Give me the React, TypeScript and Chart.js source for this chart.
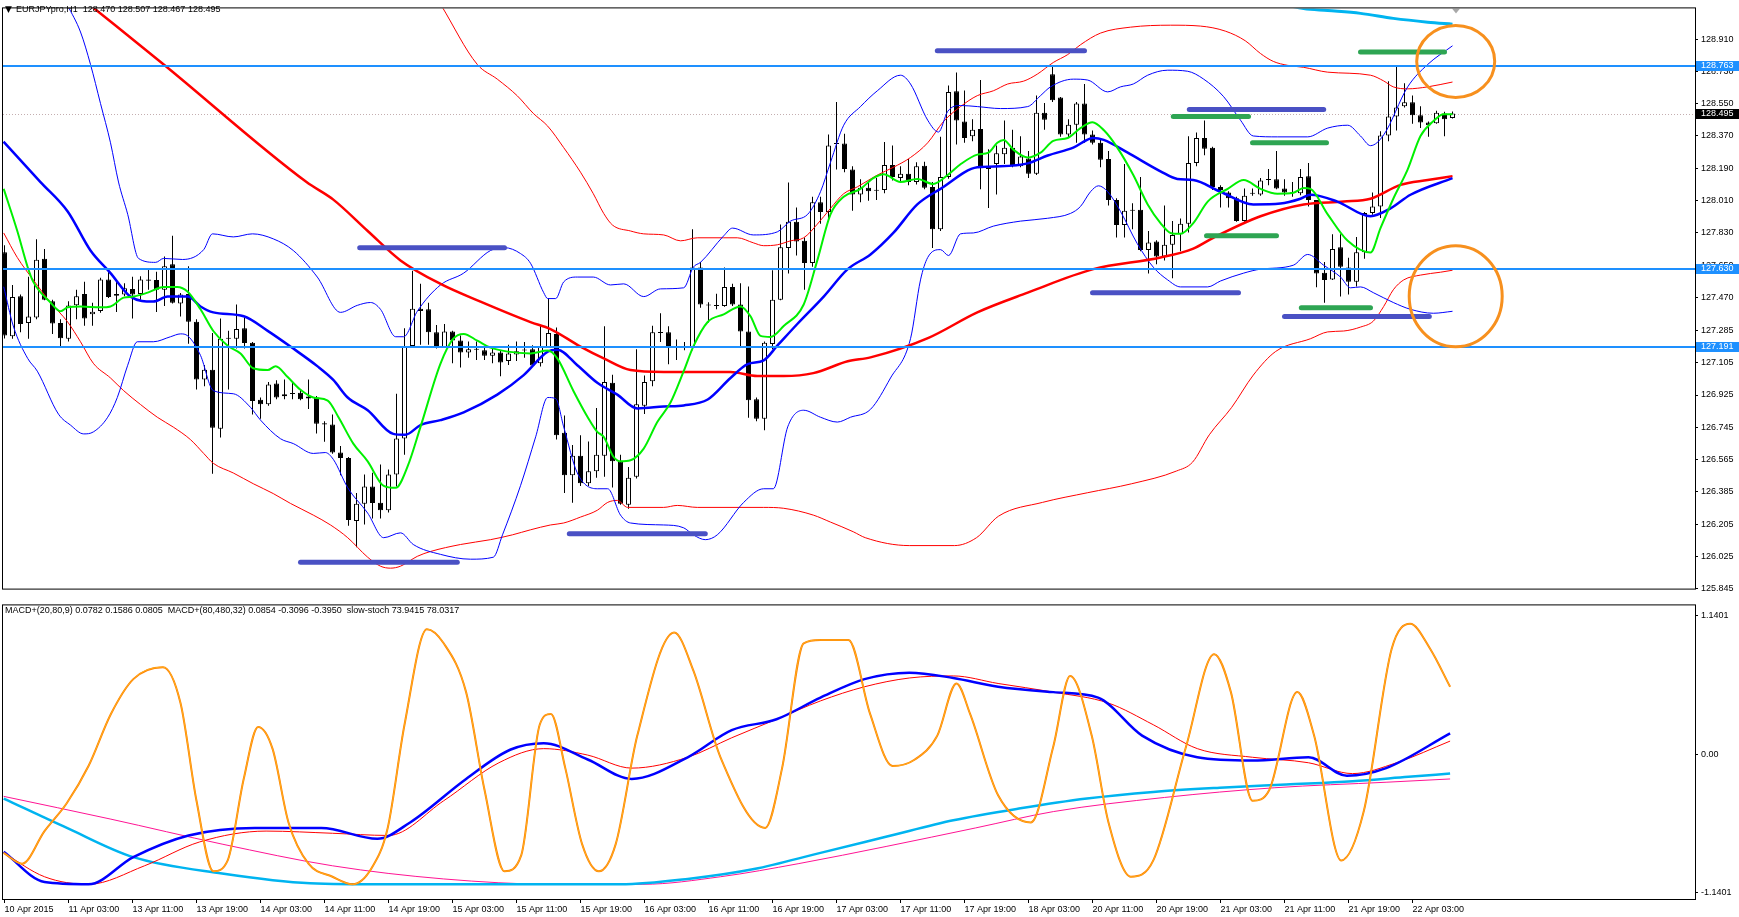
import React, { useEffect, useRef } from "react";
import { Chart, registerables } from "chart.js";
Chart.register(...registerables);

// ================= DATA =================
const timeLabels = [
  "10 Apr 2015", "11 Apr 03:00", "13 Apr 11:00", "13 Apr 19:00", "14 Apr 03:00", "14 Apr 11:00",
  "14 Apr 19:00", "15 Apr 03:00", "15 Apr 11:00", "15 Apr 19:00", "16 Apr 03:00", "16 Apr 11:00",
  "16 Apr 19:00", "17 Apr 03:00", "17 Apr 11:00", "17 Apr 19:00", "18 Apr 03:00", "20 Apr 11:00",
  "20 Apr 19:00", "21 Apr 03:00", "21 Apr 11:00", "21 Apr 19:00", "22 Apr 03:00",
];
const timeTickBars = [0, 8, 16, 24, 32, 40, 48, 56, 64, 72, 80, 88, 96, 104, 112, 120, 128, 136, 144, 152, 160, 168, 176];

const priceTicks = [128.910, 128.730, 128.550, 128.370, 128.190, 128.010, 127.830, 127.650, 127.470,
  127.285, 127.105, 126.925, 126.745, 126.565, 126.385, 126.205, 126.025, 125.845];
const oscTicks = [1.1401, 0, -1.1401];
const oscTickLabels = ["1.1401", "0.00", "-1.1401"];

const levelPrices = [128.763, 127.630, 127.191];
const bidPrice = 128.495;
const shiftMarkerBar = 181.4;

const opens = [
  127.722,127.253,127.476,127.326,127.357,127.685,127.448,127.326,127.239,127.426,
  127.488,127.375,127.393,127.570,127.479,127.485,127.516,127.488,127.570,127.567,
  127.512,127.654,127.435,127.488,127.333,127.011,127.066,126.737,127.239,127.239,
  127.297,127.217,126.898,126.874,126.989,126.918,126.932,126.938,126.905,126.911,
  126.768,126.761,126.604,126.573,126.222,126.318,126.415,126.324,126.282,126.482,
  126.683,127.199,127.406,127.403,127.275,127.193,127.279,127.229,127.162,127.180,
  127.175,127.144,127.162,127.115,127.151,127.173,127.180,127.102,127.193,127.266,
  126.714,126.477,126.586,126.433,126.500,126.586,126.993,126.555,126.313,126.469,
  126.865,127.002,127.271,127.275,127.193,127.191,127.188,127.636,127.430,127.424,
  127.421,127.527,127.430,127.279,126.901,126.792,127.210,127.457,127.745,127.891,
  127.785,127.661,128.000,127.946,128.325,128.328,128.183,128.044,128.081,128.068,
  128.068,128.208,128.135,128.159,128.113,128.204,128.086,127.849,128.141,128.620,
  128.451,128.369,128.409,128.204,128.214,128.268,128.305,128.201,128.245,128.159,
  128.500,128.715,128.584,128.378,128.432,128.551,128.378,128.332,128.241,128.013,
  127.873,127.953,127.958,127.734,127.782,127.698,127.763,127.822,127.880,128.219,
  128.359,128.305,128.086,128.055,128.022,127.895,128.050,128.044,128.128,128.128,
  128.077,128.050,128.050,128.146,128.013,127.607,127.570,127.749,127.636,127.557,
  127.721,127.940,127.977,128.372,128.478,128.536,128.558,128.485,128.445,128.441,
  128.496,128.470,
];
const highs = [
  127.760,127.539,127.485,127.585,127.794,127.740,127.457,127.348,127.448,127.512,
  127.557,127.439,127.579,127.612,127.557,127.548,127.585,127.588,127.625,127.612,
  127.698,127.813,127.494,127.643,127.348,127.093,127.271,127.352,127.284,127.430,
  127.357,127.220,126.911,126.998,127.007,127.011,126.998,126.956,127.011,126.920,
  126.779,126.816,126.641,126.579,126.378,126.482,126.491,126.537,126.510,126.932,
  127.297,127.618,127.545,127.439,127.315,127.321,127.284,127.257,127.224,127.224,
  127.193,127.199,127.175,127.206,127.224,127.220,127.202,127.312,127.466,127.302,
  126.810,126.646,126.701,126.665,126.852,127.308,127.038,126.592,126.524,127.180,
  127.034,127.312,127.381,127.308,127.235,127.220,127.849,127.667,127.443,127.490,
  127.636,127.545,127.548,127.530,126.911,127.224,127.621,127.876,128.110,127.971,
  127.804,128.031,128.031,128.378,128.560,128.383,128.201,128.128,128.113,128.135,
  128.336,128.317,128.201,128.241,128.223,128.226,128.113,128.365,128.651,128.724,
  128.624,128.463,128.682,128.296,128.317,128.456,128.405,128.369,128.286,128.596,
  128.554,128.755,128.587,128.463,128.560,128.660,128.401,128.347,128.286,128.022,
  128.214,127.995,128.141,127.840,127.789,127.982,127.895,127.909,128.368,128.390,
  128.456,128.310,128.095,128.062,128.031,128.077,128.077,128.135,128.186,128.286,
  128.128,128.113,128.186,128.219,128.013,127.667,127.822,127.822,127.690,127.807,
  127.946,128.055,128.396,128.675,128.755,128.664,128.596,128.536,128.451,128.511,
  128.505,128.507,
];
const lows = [
  127.240,127.239,127.275,127.239,127.348,127.453,127.266,127.193,127.224,127.348,
  127.312,127.312,127.384,127.466,127.388,127.476,127.352,127.457,127.512,127.388,
  127.421,127.435,127.363,127.211,126.956,126.974,126.486,126.688,126.956,127.184,
  127.184,126.816,126.792,126.865,126.901,126.901,126.901,126.896,126.847,126.710,
  126.664,126.597,126.477,126.196,126.076,126.203,126.236,126.236,126.269,126.415,
  126.592,127.193,127.206,127.206,127.184,127.188,127.102,127.078,127.133,127.120,
  127.120,127.102,127.029,127.093,127.115,127.133,127.084,127.084,127.188,126.677,
  126.378,126.324,126.418,126.418,126.464,126.469,126.409,126.313,126.291,126.459,
  126.819,126.974,127.220,127.096,127.120,127.175,127.175,127.412,127.330,127.403,
  127.417,127.421,127.199,126.798,126.779,126.728,127.180,127.454,127.603,127.703,
  127.512,127.640,127.880,127.913,128.183,128.168,127.953,128.000,128.008,128.013,
  128.050,128.122,128.113,128.095,128.099,128.073,127.745,127.840,128.132,128.323,
  128.332,128.341,128.073,127.968,128.044,128.214,128.195,128.195,128.135,128.153,
  128.405,128.560,128.365,128.359,128.332,128.332,128.323,128.195,127.982,127.804,
  127.804,127.849,127.727,127.603,127.654,127.676,127.576,127.727,127.831,128.201,
  128.263,128.068,127.971,127.971,127.891,127.891,128.037,128.037,128.095,128.073,
  128.037,128.031,128.040,127.977,127.526,127.439,127.567,127.475,127.485,127.530,
  127.685,127.931,127.913,128.341,128.401,128.529,128.438,128.414,128.365,128.438,
  128.368,128.467,
];
const closes = [
  127.257,127.472,127.321,127.363,127.680,127.457,127.324,127.242,127.424,127.476,
  127.352,127.390,127.570,127.472,127.488,127.521,127.485,127.570,127.563,127.512,
  127.643,127.439,127.485,127.333,127.011,127.066,126.743,127.239,127.242,127.293,
  127.215,126.892,126.874,126.983,126.911,126.929,126.930,126.901,126.916,126.765,
  126.761,126.604,126.573,126.227,126.318,126.415,126.322,126.282,126.482,126.683,
  127.193,127.406,127.393,127.275,127.188,127.279,127.229,127.162,127.180,127.177,
  127.144,127.162,127.107,127.157,127.169,127.177,127.089,127.199,127.271,126.701,
  126.477,126.586,126.433,126.500,126.592,126.998,126.555,126.318,126.464,126.874,
  126.998,127.275,127.275,127.193,127.191,127.195,127.636,127.430,127.424,127.421,
  127.527,127.430,127.279,126.896,126.792,127.217,127.457,127.749,127.891,127.782,
  127.661,128.000,127.946,128.317,128.328,128.186,128.044,128.081,128.062,128.064,
  128.208,128.141,128.159,128.113,128.201,128.081,127.849,128.141,128.615,128.456,
  128.359,128.405,128.190,128.186,128.274,128.305,128.208,128.256,128.159,128.500,
  128.460,128.569,128.378,128.432,128.551,128.378,128.332,128.237,128.013,127.873,
  127.953,127.957,127.734,127.776,127.698,127.763,127.818,127.880,128.219,128.359,
  128.299,128.086,128.068,128.022,127.895,128.037,128.048,128.122,128.124,128.077,
  128.055,128.053,128.141,128.013,127.603,127.567,127.740,127.640,127.557,127.721,
  127.940,127.977,128.372,128.478,128.529,128.558,128.485,128.445,128.430,128.500,
  128.463,128.495,
];

// indicator lines: [bar, value]
const maRed = [[10.75,129.098],[19.9,128.769],[37.75,128.113],[41.1,128.015],[45.4,127.840],[49.5,127.676],[54.5,127.545],[59.5,127.446],[65.75,127.332],[68.25,127.293],[72,127.195],[74.9,127.129],[78.25,127.064],[82.4,127.053],[90.75,127.053],[94.1,127.031],[97.4,127.031],[101.1,127.047],[105.4,127.113],[108.25,127.135],[115.5,127.244],[121.6,127.386],[127.9,127.496],[136.1,127.627],[144.5,127.692],[148.6,127.742],[151.1,127.802],[157,127.922],[162.4,127.988],[167.4,128.004],[170.75,128.020],[174.5,128.097],[177.9,128.124],[181,128.146]];
const maBlue = [[-0.125,128.338],[4.5,128.113],[7.9,127.949],[10.75,127.731],[13.25,127.605],[15.75,127.474],[18.6,127.446],[20.4,127.474],[22.9,127.474],[24.5,127.419],[26.1,127.386],[29.9,127.364],[32.9,127.283],[36.1,127.184],[39.1,127.086],[41.1,127.009],[42.9,126.911],[45.4,126.840],[48.6,126.708],[50.1,126.703],[52,126.757],[54.5,126.785],[57.4,126.828],[61.6,126.927],[64.9,127.036],[67.9,127.167],[69.1,127.178],[71.6,127.091],[74.1,126.993],[76.6,126.927],[79.1,126.850],[82.4,126.861],[84.9,126.867],[87.9,126.900],[90.75,127.020],[92.9,127.097],[94.9,127.118],[96.6,127.200],[99.1,127.321],[102.4,127.474],[105.4,127.627],[108.25,127.709],[111.1,127.829],[114.1,127.988],[117,128.075],[121.6,128.195],[124.5,128.201],[127.9,128.217],[130.4,128.261],[133.6,128.305],[136.1,128.359],[137.4,128.348],[140.4,128.277],[144.5,128.173],[146.6,128.130],[148.6,128.124],[152,128.059],[156.1,127.988],[159.5,127.993],[162,128.020],[163.25,128.042],[166.6,128.004],[170.75,127.922],[173.25,127.966],[175.75,128.042],[181,128.135]];
const maGreen = [[-0.1,128.075],[1.6,127.840],[2.9,127.638],[3.6,127.556],[5.75,127.441],[7,127.392],[7.9,127.414],[9.5,127.419],[12,127.414],[13.25,127.419],[14.9,127.468],[16.1,127.474],[17.9,127.496],[19.9,127.528],[21.6,127.528],[22.9,127.501],[24.5,127.403],[26.1,127.282],[27.9,127.200],[29.5,127.157],[31.1,127.074],[32.9,127.064],[33.9,127.086],[35.4,127.025],[37,126.954],[38.6,126.911],[40.4,126.894],[41.75,126.801],[43.6,126.654],[45.4,126.555],[47.4,126.418],[48.9,126.407],[50.4,126.528],[52,126.747],[54.5,127.100],[56.1,127.239],[57.4,127.266],[59.1,127.228],[60.75,127.189],[62.9,127.167],[65.75,127.157],[67.9,127.173],[69.1,127.129],[71.1,126.949],[72.9,126.801],[74.1,126.719],[74.9,126.692],[76.1,126.582],[77,126.555],[78.25,126.561],[79.9,126.626],[81.6,126.774],[83.25,126.883],[84.9,127.058],[86.1,127.195],[87.9,127.332],[89.9,127.375],[92,127.419],[93.25,127.364],[94.5,127.255],[95.75,127.249],[97.4,127.310],[99.9,127.430],[101.6,127.676],[103.25,127.933],[104.9,128.031],[107,128.075],[108.6,128.135],[109.9,128.157],[112,128.113],[114.1,128.130],[116.1,128.102],[117.9,128.152],[119.5,128.212],[121.6,128.266],[123,128.277],[124.1,128.332],[124.9,128.348],[126.1,128.294],[127.9,128.250],[129.5,128.277],[131.1,128.343],[132.9,128.359],[134.5,128.414],[136,128.447],[137.4,128.403],[139.1,128.305],[141.1,128.152],[142.9,127.988],[144.5,127.884],[145.75,127.829],[147,127.824],[148.6,127.884],[150.4,128.004],[152.9,128.075],[154.9,128.124],[157,128.075],[159.1,128.048],[161.1,128.053],[162.4,128.080],[163.25,128.075],[165.4,127.933],[167.9,127.785],[170.75,127.720],[172,127.856],[173.6,128.020],[175.4,128.184],[177,128.370],[178.6,128.452],[179.9,128.491],[181,128.491]];
const bbBlueUpper = [[7.9,129.098],[9.5,128.950],[10.75,128.769],[12,128.551],[13.25,128.332],[14.25,128.113],[15.4,127.933],[16.75,127.687],[18.9,127.665],[19.9,127.687],[22.25,127.681],[24.9,127.736],[26,127.824],[28.6,127.807],[31,127.824],[33.6,127.796],[36.1,127.731],[39.1,127.583],[42,127.386],[44.1,127.425],[45.75,127.441],[47,127.403],[48.9,127.250],[49.9,127.250],[51.6,127.392],[54.5,127.539],[57.4,127.605],[60.75,127.731],[62.5,127.747],[64.5,127.714],[65.75,127.660],[67.4,127.496],[67.9,127.463],[68.9,127.463],[69.9,127.556],[71.6,127.583],[73.6,127.583],[75.75,127.539],[77.4,127.545],[79.9,127.474],[82,127.517],[84.9,127.523],[86.1,127.638],[87,127.665],[89.9,127.813],[91,127.856],[93.6,127.818],[96.6,127.835],[98.25,127.895],[100.4,127.933],[102,128.059],[103.25,128.223],[104.9,128.430],[107,128.534],[109.1,128.622],[112,128.709],[113.25,128.660],[115.4,128.458],[116.75,128.392],[117.9,128.507],[119.5,128.540],[121.6,128.534],[124.5,128.523],[127.9,128.534],[129.5,128.595],[130.75,128.644],[133.6,128.687],[135.4,128.682],[137.9,128.616],[139.5,128.644],[141.1,128.660],[142.9,128.709],[145.4,128.737],[147.9,128.731],[149.9,128.687],[152.4,128.589],[154.5,128.458],[156.1,128.370],[159.1,128.365],[162.9,128.365],[165.4,128.414],[167.9,128.430],[169.5,128.370],[170.75,128.316],[172.4,128.376],[175.4,128.644],[177.9,128.769],[181,128.873]];
const bbBlueLower = [[-0.1,127.529],[1.1,127.310],[2.9,127.129],[4.1,127.058],[6.75,126.818],[8.25,126.757],[9.9,126.708],[11.1,126.719],[12.9,126.801],[14.1,126.911],[15.4,127.091],[16.6,127.222],[18.6,127.222],[20.75,127.250],[22,127.266],[22.9,127.255],[24.5,127.146],[26.1,126.949],[28.6,126.932],[30.75,126.856],[32,126.785],[34.5,126.681],[36.1,126.654],[38.6,126.599],[40.1,126.604],[41.1,126.566],[42.9,126.408],[45.4,126.266],[47.4,126.129],[49.5,126.156],[51.1,126.091],[54.5,126.036],[58.25,126.009],[61.1,126.020],[62.25,126.145],[64.5,126.419],[66.4,126.692],[67.9,126.911],[68.9,126.905],[69.9,126.747],[71.6,126.490],[74.1,126.402],[75.4,126.402],[77,126.255],[78.25,126.211],[82.4,126.200],[84.9,126.184],[86.1,126.145],[87.6,126.118],[89.1,126.145],[92.4,126.326],[94.9,126.402],[96.1,126.402],[97.9,126.747],[99.9,126.840],[102,126.801],[104.1,126.774],[105.75,126.801],[108.25,126.845],[110.75,127.020],[113.25,127.239],[114.5,127.567],[115.4,127.692],[117,127.736],[118,127.703],[119.5,127.824],[121.1,127.829],[123.6,127.867],[127,127.895],[130.4,127.911],[133.25,127.938],[134.5,127.977],[135.75,128.059],[136.75,128.092],[137.9,128.059],[139.5,127.949],[141.6,127.769],[143.6,127.638],[145.4,127.567],[147,127.528],[150.4,127.528],[152,127.561],[154.9,127.605],[157,127.627],[161.1,127.649],[162.9,127.709],[164.9,127.649],[167,127.583],[168.25,127.523],[169.5,127.528],[171.1,127.496],[173.6,127.441],[175.75,127.403],[178.6,127.381],[181,127.392]];
const bbRedUpper = [[54.6,129.098],[59.1,128.769],[61.6,128.687],[64.1,128.594],[66.1,128.496],[67.9,128.425],[69.9,128.305],[72,128.168],[73.6,128.048],[74.9,127.938],[76,127.873],[78.25,127.840],[79.9,127.824],[82.4,127.818],[84.5,127.785],[86.6,127.802],[89.9,127.802],[91.6,127.802],[93.6,127.774],[94.9,127.758],[96.6,127.763],[98.25,127.785],[99.9,127.802],[101.6,127.878],[103.25,127.966],[104.9,128.048],[106.6,128.086],[108.25,128.130],[109.1,128.152],[111.1,128.195],[113.25,128.250],[115.4,128.332],[117.4,128.452],[119.5,128.534],[121.6,128.595],[123.6,128.622],[125.4,128.660],[127.4,128.676],[129.1,128.715],[131.1,128.780],[132.9,128.824],[134.5,128.879],[137,128.944],[140.75,128.977],[145.75,128.988],[149.5,128.983],[152.6,128.955],[155.1,128.901],[157,128.830],[158.6,128.786],[160.4,128.764],[162.4,128.753],[165.4,128.726],[170.75,128.709],[172.4,128.677],[173.6,128.644],[175.4,128.633],[177.9,128.644],[181,128.671]];
const bbRedLower = [[-0.1,127.829],[1.6,127.692],[3.6,127.567],[5.75,127.441],[7.9,127.332],[9.5,127.222],[11.1,127.102],[13.25,127.020],[14.9,126.949],[17,126.872],[19.1,126.801],[21.1,126.746],[23.25,126.676],[24.9,126.599],[26.1,126.544],[28.6,126.490],[31.1,126.430],[33.6,126.375],[35.75,126.320],[38.6,126.255],[40.75,126.200],[42.9,126.129],[45.4,126.020],[47,125.970],[48.25,125.959],[49.5,125.970],[51.6,126.025],[53.25,126.052],[57,126.091],[60.75,126.118],[63.5,126.145],[65.75,126.173],[68.25,126.200],[69.9,126.211],[72,126.244],[74.1,126.282],[75.4,126.326],[76.6,126.337],[77.9,126.298],[82.4,126.298],[84.1,126.309],[86.6,126.298],[94.9,126.298],[97.4,126.293],[101.1,126.255],[103.25,126.216],[106.1,126.162],[107.6,126.129],[113.1,126.085],[118.75,126.085],[121.5,126.129],[124.25,126.249],[129.75,126.326],[135.4,126.380],[140.9,126.430],[146.5,126.501],[148.5,126.550],[150.6,126.703],[153.4,126.856],[156.1,127.036],[158.9,127.168],[163.25,127.239],[165.4,127.277],[167.4,127.282],[169.5,127.304],[171.1,127.337],[172.4,127.419],[173.6,127.512],[174.9,127.567],[177,127.594],[179.5,127.610],[181,127.621]];
const longBandUpper = [[159.5,129.108],[162.4,129.081],[165.4,129.070],[169.5,129.054],[173.6,129.026],[177.9,129.005],[181,128.994]];

// drawn objects: [fromBar, toBar, price]
const blueSegments = [[116.6,135.0,128.846],[44.4,62.5,127.747],[37.0,56.6,125.992],[70.6,87.6,126.151],[136.0,154.25,127.496],[148.1,164.9,128.518],[160.0,178.1,127.363]];
const greenSegments = [[146.1,155.5,128.478],[156.0,165.25,128.332],[150.25,159.0,127.813],[169.5,180.0,128.839],[162.1,170.75,127.412]];
const circleCenters = [[181.4, 128.786], [181.4, 127.476]];

// lower panel lines: [bar, value]
const stoch = [[-0.1,-0.811],[2.2,-0.900],[5,-0.632],[7.8,-0.401],[10.5,-0.098],[13.3,0.330],[16.1,0.616],[19.8,0.714],[22,0.420],[24,-0.383],[26.1,-0.962],[27.9,-0.873],[29.9,-0.205],[31.7,0.223],[33.5,0.045],[35.5,-0.561],[38,-0.900],[41,-1.007],[43.5,-1.069],[45.9,-0.935],[47.9,-0.606],[50,0.241],[52.8,1.026],[54.9,0.910],[57.7,0.509],[60,-0.293],[62.5,-0.962],[64.6,-0.829],[66.9,0.241],[68.3,0.330],[70.1,-0.115],[72.2,-0.739],[74.3,-0.962],[76.4,-0.739],[79.1,0.152],[83.7,0.999],[86.1,0.687],[89.5,-0.026],[95.1,-0.606],[97.2,-0.115],[99.9,0.910],[102,0.937],[105.5,0.937],[108.2,0.330],[111,-0.098],[113.8,-0.044],[116.6,0.152],[119,0.580],[120.7,0.330],[124.2,-0.338],[128.3,-0.561],[131.1,0.063],[133.2,0.642],[135.9,0.152],[138,-0.561],[140.8,-1.007],[143.6,-0.873],[147.7,0.063],[151.2,0.821],[153.3,0.509],[156,-0.383],[158.1,-0.294],[161.6,0.509],[163.7,0.152],[167.1,-0.873],[169.9,-0.472],[173.4,0.865],[175.7,1.070],[178.2,0.865],[180.7,0.553]];
const macdFast = [[-0.1,-0.802],[5,-1.051],[10.5,-1.069],[16.1,-0.846],[23,-0.668],[31.3,-0.606],[39.6,-0.606],[46.6,-0.695],[50.7,-0.561],[57.7,-0.204],[63.2,0.036],[67.4,0.090],[72.9,-0.044],[78.4,-0.204],[85.4,-0.026],[90.9,0.197],[96.5,0.286],[102,0.464],[107.5,0.616],[113.1,0.669],[118.6,0.625],[124.2,0.553],[131.1,0.509],[136.7,0.464],[142.2,0.152],[149.1,-0.026],[156,-0.053],[163,-0.026],[167.8,-0.178],[172.7,-0.115],[180.7,0.170]];
const macdFastSignal = [[-0.1,-0.811],[5,-1.007],[10.5,-1.069],[17.5,-0.917],[24.4,-0.721],[32.7,-0.632],[41,-0.650],[48,-0.668],[54.9,-0.383],[61.8,-0.071],[67.4,0.045],[72.9,-0.008],[78.4,-0.115],[85.4,-0.026],[90.9,0.134],[96.5,0.286],[102,0.437],[107.5,0.553],[113.1,0.625],[118.6,0.642],[124.2,0.580],[131.1,0.509],[138,0.419],[143.6,0.241],[149.1,0.045],[156,-0.026],[163,-0.071],[168.5,-0.160],[174,-0.071],[180.7,0.107]];
const macdSlow = [[-0.1,-0.365],[7.8,-0.606],[16.1,-0.846],[27.2,-0.980],[38.2,-1.060],[47.9,-1.069],[61.8,-1.069],[77,-1.069],[85.4,-1.025],[93.7,-0.944],[102,-0.811],[110.3,-0.677],[118.6,-0.543],[127,-0.445],[135.3,-0.365],[143.6,-0.311],[151.9,-0.276],[160.2,-0.249],[168.5,-0.222],[175.5,-0.186],[180.7,-0.160]];
const macdSlowSignal = [[-0.1,-0.347],[13.3,-0.534],[27.2,-0.739],[41,-0.917],[54.9,-1.025],[68.7,-1.069],[79.8,-1.069],[89.5,-1.007],[99.2,-0.900],[110.3,-0.757],[121.4,-0.606],[131.1,-0.472],[145,-0.356],[158.8,-0.276],[172.7,-0.231],[180.7,-0.204]];

const headerText = "EURJPYpro,H1  128.470 128.507 128.467 128.495";
const subHeaderText = "MACD+(20,80,9) 0.0782 0.1586 0.0805  MACD+(80,480,32) 0.0854 -0.3096 -0.3950  slow-stoch 73.9415 78.0317";

// ================= STYLE / LAYOUT =================
const W = 1739;
const TOP_H = 597;
const BOT_TOP = 597;
const BOT_H = 320;
const X_MIN = -0.1875;
const X_MAX = 211.3125;
const PRICE_MIN = 125.845;
const PRICE_MAX = 129.0817;
const OSC_MIN = -1.1897;
const OSC_MAX = 1.2211;
const AXIS_W = 44;
const FONT = "'Liberation Sans', Arial, sans-serif";
const LEVEL_COLOR = "#1E90FF";
const CIRCLE_RADII = [[39, 36], [46.5, 50.5]];

const pts = (arr: number[][]) => arr.map(([x, y]) => ({ x, y }));

function lineDs(arr: number[][], color: string, width: number, order: number) {
  return {
    type: "line" as const,
    data: pts(arr),
    borderColor: color,
    borderWidth: width,
    pointRadius: 0,
    fill: false,
    cubicInterpolationMode: "monotone" as const,
    order,
  };
}
function segDs(seg: number[], color: string) {
  return {
    type: "line" as const,
    data: [{ x: seg[0], y: seg[2] }, { x: seg[1], y: seg[2] }],
    borderColor: color,
    borderWidth: 5,
    borderCapStyle: "round" as const,
    pointRadius: 0,
    fill: false,
    order: 1,
  };
}

const framePlugin = {
  id: "frame",
  afterDraw(chart: any) {
    const { ctx, chartArea: a } = chart;
    ctx.save();
    ctx.strokeStyle = "#000";
    ctx.lineWidth = 1;
    ctx.strokeRect(a.left - 0.5, a.top - 0.5, a.right - a.left + 1, a.bottom - a.top + 1);
    ctx.restore();
  },
};

const topPlugin = {
  id: "topOverlay",
  beforeDatasetsDraw(chart: any) {
    const { ctx, chartArea: a, scales } = chart;
    const py = Math.round(scales.y.getPixelForValue(bidPrice)) + 0.5;
    ctx.save();
    ctx.strokeStyle = "#C4AEB0";
    ctx.lineWidth = 1;
    ctx.setLineDash([1, 2]);
    ctx.beginPath();
    ctx.moveTo(a.left, py);
    ctx.lineTo(a.right, py);
    ctx.stroke();
    ctx.restore();
  },
  afterDatasetsDraw(chart: any) {
    const { ctx, chartArea: a, scales } = chart;
    ctx.save();
    ctx.beginPath();
    ctx.rect(a.left, a.top, a.right - a.left, a.bottom - a.top);
    ctx.clip();
    ctx.strokeStyle = LEVEL_COLOR;
    ctx.lineWidth = 2;
    levelPrices.forEach((v) => {
      const py = Math.round(scales.y.getPixelForValue(v));
      ctx.beginPath();
      ctx.moveTo(a.left, py);
      ctx.lineTo(a.right, py);
      ctx.stroke();
    });
    ctx.strokeStyle = "#F7901E";
    ctx.lineWidth = 3;
    circleCenters.forEach(([bx, p], i) => {
      const cx = scales.x.getPixelForValue(bx);
      const cy = scales.y.getPixelForValue(p);
      ctx.beginPath();
      ctx.ellipse(cx, cy, CIRCLE_RADII[i][0], CIRCLE_RADII[i][1], 0, 0, Math.PI * 2);
      ctx.stroke();
    });
    // chart-shift marker
    const mx = Math.round(scales.x.getPixelForValue(shiftMarkerBar));
    ctx.fillStyle = "#A8A8A8";
    ctx.beginPath();
    ctx.moveTo(mx - 4, a.top);
    ctx.lineTo(mx + 4, a.top);
    ctx.lineTo(mx, a.top + 5);
    ctx.closePath();
    ctx.fill();
    ctx.restore();
  },
  afterDraw(chart: any) {
    const { ctx, chartArea: a, scales } = chart;
    ctx.save();
    ctx.font = `9px ${FONT}`;
    ctx.textBaseline = "middle";
    const box = (v: number, bg: string) => {
      const py = Math.round(scales.y.getPixelForValue(v));
      ctx.fillStyle = bg;
      ctx.fillRect(a.right + 1, py - 5, chart.width - a.right - 1, 10);
      ctx.fillStyle = "#fff";
      ctx.fillText(v.toFixed(3), a.right + 6, py);
    };
    levelPrices.forEach((v) => box(v, LEVEL_COLOR));
    box(bidPrice, "#000");
    ctx.restore();
  },
};

export default function App() {
  const topRef = useRef<HTMLCanvasElement>(null);
  const botRef = useRef<HTMLCanvasElement>(null);

  useEffect(() => {
    Chart.defaults.font.family = FONT;
    Chart.defaults.font.size = 9;
    Chart.defaults.color = "#000";

    const bodyColors = opens.map((o, i) => (closes[i] >= o ? "#FFFFFF" : "#000000"));
    const topChart = new Chart(topRef.current!, {
      type: "bar",
      data: {
        datasets: [
          ...blueSegments.map((s) => segDs(s, "#4A51C4")),
          ...greenSegments.map((s) => segDs(s, "#2EA553")),
          lineDs(longBandUpper, "#00B4F0", 3, 3),
          lineDs(maGreen, "#00F000", 2, 4),
          lineDs(maBlue, "#0000FF", 2.5, 5),
          lineDs(maRed, "#FF0000", 2.5, 6),
          lineDs(bbBlueUpper, "#0000FF", 1, 7),
          lineDs(bbBlueLower, "#0000FF", 1, 7),
          lineDs(bbRedUpper, "#FF0000", 1, 8),
          lineDs(bbRedLower, "#FF0000", 1, 8),
          {
            type: "bar" as const,
            data: opens.map((o, i) => ({ x: i, y: [Math.min(o, closes[i]), Math.max(o, closes[i])] })) as any,
            backgroundColor: bodyColors,
            borderColor: "#000",
            borderWidth: 1,
            borderSkipped: false,
            maxBarThickness: 5,
            minBarLength: 1,
            grouped: false,
            order: 19,
          },
          {
            type: "bar" as const,
            data: lows.map((l, i) => ({ x: i, y: [l, highs[i]] })) as any,
            backgroundColor: "#000",
            borderWidth: 0,
            maxBarThickness: 1,
            grouped: false,
            order: 20,
          },
        ] as any,
      },
      options: {
        responsive: false,
        animation: false,
        devicePixelRatio: 1,
        layout: { padding: { left: 3, top: 3, right: 0, bottom: 2 } },
        plugins: { legend: { display: false }, tooltip: { enabled: false } },
        scales: {
          x: { type: "linear", min: X_MIN, max: X_MAX, display: false, offset: false, grid: { offset: false } },
          y: {
            type: "linear",
            position: "right",
            min: PRICE_MIN,
            max: PRICE_MAX,
            afterFit: (s: any) => { s.width = AXIS_W; },
            afterBuildTicks: (s: any) => { s.ticks = priceTicks.map((v) => ({ value: v })); },
            ticks: { padding: 3, color: "#000", font: { size: 9, family: FONT }, callback: (v: any) => Number(v).toFixed(3) },
            grid: { drawOnChartArea: false, drawTicks: true, tickLength: 3, color: "#000" },
            border: { display: false },
          },
        },
      } as any,
      plugins: [topPlugin, framePlugin],
    });

    const botChart = new Chart(botRef.current!, {
      type: "line",
      data: {
        datasets: [
          lineDs(stoch, "#FFB020", 1, 1),
          lineDs(stoch, "#FF8000", 2, 2),
          lineDs(macdFast, "#0000FF", 2.5, 3),
          lineDs(macdFastSignal, "#FF0000", 1, 4),
          lineDs(macdSlow, "#00B4F0", 2.5, 5),
          lineDs(macdSlowSignal, "#FF1493", 1, 6),
        ] as any,
      },
      options: {
        responsive: false,
        animation: false,
        devicePixelRatio: 1,
        layout: { padding: { left: 3, top: 2, right: 0, bottom: 0 } },
        plugins: { legend: { display: false }, tooltip: { enabled: false } },
        scales: {
          x: {
            type: "linear",
            min: X_MIN,
            max: X_MAX,
            offset: false,
            afterFit: (s: any) => { s.height = 18; },
            afterBuildTicks: (s: any) => { s.ticks = timeTickBars.map((v) => ({ value: v })); },
            ticks: {
              autoSkip: false, maxRotation: 0, minRotation: 0, align: "start", padding: 1, color: "#000",
              font: { size: 9, family: FONT },
              callback: (v: any) => { const k = timeTickBars.indexOf(Number(v)); return k >= 0 ? timeLabels[k] : ""; },
            },
            grid: { drawOnChartArea: false, drawTicks: true, tickLength: 4, color: "#000" },
            border: { display: false },
          },
          y: {
            type: "linear",
            position: "right",
            min: OSC_MIN,
            max: OSC_MAX,
            afterFit: (s: any) => { s.width = AXIS_W; },
            afterBuildTicks: (s: any) => { s.ticks = oscTicks.map((v) => ({ value: v })); },
            ticks: {
              padding: 3, color: "#000", font: { size: 9, family: FONT },
              callback: (v: any) => { const k = oscTicks.indexOf(Number(v)); return k >= 0 ? oscTickLabels[k] : ""; },
            },
            grid: { drawOnChartArea: false, drawTicks: true, tickLength: 3, color: "#000" },
            border: { display: false },
          },
        },
      } as any,
      plugins: [framePlugin],
    });

    return () => {
      topChart.destroy();
      botChart.destroy();
    };
  }, []);

  return (
    <div style={{ position: "fixed", left: 0, top: 0, width: W, height: 917, background: "#fff", overflow: "hidden" }}>
      <canvas ref={topRef} width={W} height={TOP_H} style={{ position: "absolute", left: 0, top: 0, width: W, height: TOP_H }} />
      <canvas ref={botRef} width={W} height={BOT_H} style={{ position: "absolute", left: 0, top: BOT_TOP, width: W, height: BOT_H }} />
      <div style={{ position: "absolute", left: 5, top: 3, font: `9px ${FONT}`, lineHeight: "12px", color: "#000", whiteSpace: "pre" }}>
        <span style={{ fontSize: 9, marginRight: 4, fontFamily: "'DejaVu Sans', sans-serif" }}>▼</span>{headerText}
      </div>
      <div style={{ position: "absolute", left: 5, top: 604, font: `9px ${FONT}`, lineHeight: "12px", color: "#000", whiteSpace: "pre" }}>
        {subHeaderText}
      </div>
    </div>
  );
}
